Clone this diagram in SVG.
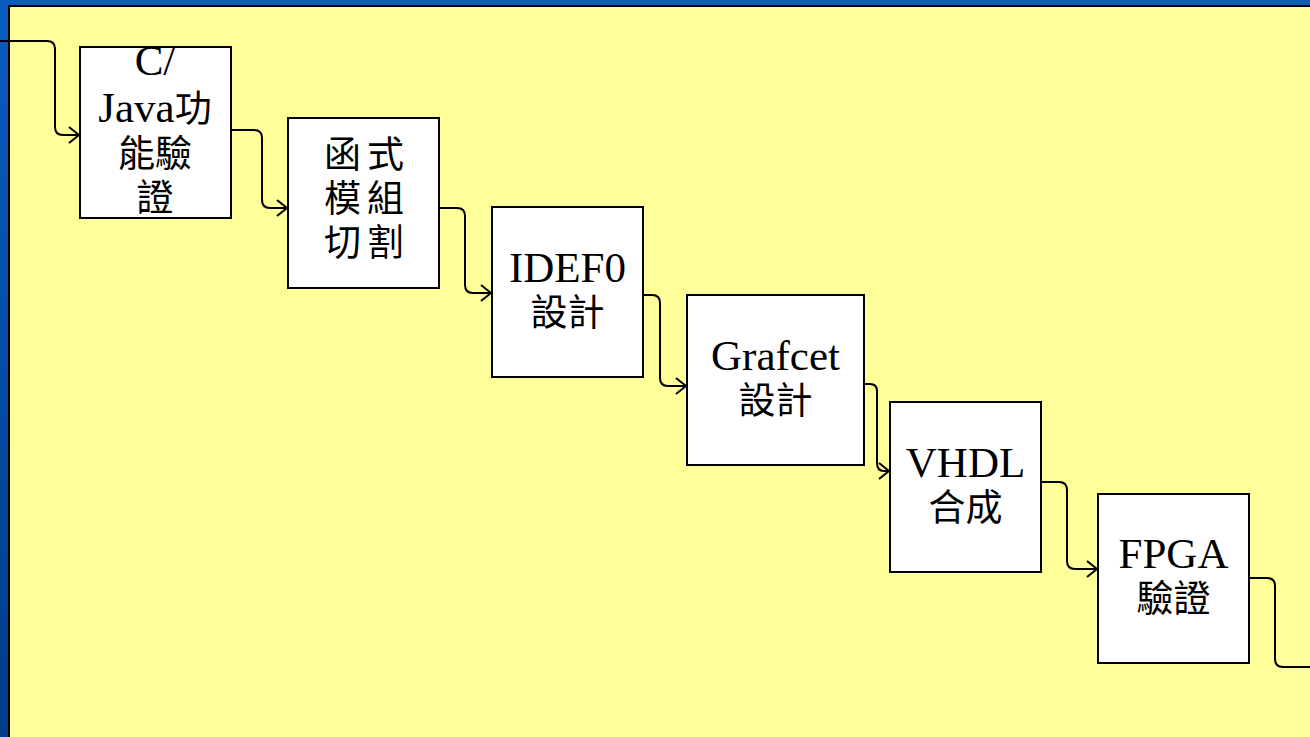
<svg xmlns="http://www.w3.org/2000/svg" width="1310" height="737" viewBox="0 0 1310 737">
<style>
.box{fill:#ffffff;stroke:#000000;stroke-width:2}
.lbl{font-family:"Liberation Serif","Noto Sans CJK TC",serif;font-size:43px;fill:#000000;text-anchor:middle}
.cj{font-family:"Liberation Serif","Noto Sans CJK TC",serif;font-size:37px;fill:#000000;text-anchor:middle}
.conn{fill:none;stroke:#000000;stroke-width:2}
</style>
<defs>
<linearGradient id="bg" x1="0" y1="0" x2="0" y2="1">
<stop offset="0" stop-color="#0A5CC0"/>
<stop offset="1" stop-color="#003C88"/>
</linearGradient>
<marker id="arr" markerUnits="userSpaceOnUse" markerWidth="14" markerHeight="20" viewBox="-12 -10 14 20" refX="0" refY="0" orient="auto">
<path d="M-10,-8 L0,0 L-10,8" fill="none" stroke="#000000" stroke-width="2"/>
</marker>
</defs>
<rect x="0" y="0" width="1310" height="737" fill="url(#bg)"/>
<rect x="8" y="5" width="1302" height="732" fill="#000000"/>
<rect x="10" y="7" width="1300" height="730" fill="#FFFF99"/>
<g id="connectors">
<path class="conn" marker-end="url(#arr)" d="M0,41 H47 Q55,41 55,49 V127 Q55,135 63,135 H79"/>
<path class="conn" marker-end="url(#arr)" d="M231,130 H254 Q262,130 262,138 V200 Q262,208 270,208 H287"/>
<path class="conn" marker-end="url(#arr)" d="M439,208 H457 Q465,208 465,216 V285 Q465,293 473,293 H491"/>
<path class="conn" marker-end="url(#arr)" d="M643,295 H652 Q660,295 660,303 V378 Q660,386 668,386 H686"/>
<path class="conn" marker-end="url(#arr)" d="M864,384 H870 Q877,384 877,391 V463 Q877,471 884,471 H889"/>
<path class="conn" marker-end="url(#arr)" d="M1041,482 H1059 Q1067,482 1067,490 V561 Q1067,569 1075,569 H1097"/>
<path class="conn" d="M1249,578 H1267 Q1275,578 1275,586 V659 Q1275,667 1283,667 H1310"/>
</g>
<g id="n1">
<rect class="box" x="80" y="47" width="151" height="171"/>
<text class="lbl" x="155" y="75">C/</text>
<text class="lbl" x="155" y="122">Java<tspan class="cj">功</tspan></text>
<text class="cj" x="155" y="167">能驗</text>
<text class="cj" x="155" y="211">證</text>
</g>
<g id="n2">
<rect class="box" x="288" y="118" width="151" height="170"/>
<text class="cj" x="367" y="168" letter-spacing="6">函式</text>
<text class="cj" x="367" y="212" letter-spacing="6">模組</text>
<text class="cj" x="367" y="256" letter-spacing="6">切割</text>
</g>
<g id="n3">
<rect class="box" x="492" y="207" width="151" height="170"/>
<text class="lbl" x="567.5" y="282">IDEF0</text>
<text class="cj" x="567.5" y="326">設計</text>
</g>
<g id="n4">
<rect class="box" x="687" y="295" width="177" height="170"/>
<text class="lbl" x="775.5" y="370">Grafcet</text>
<text class="cj" x="775.5" y="414">設計</text>
</g>
<g id="n5">
<rect class="box" x="890" y="402" width="151" height="170"/>
<text class="lbl" x="965.5" y="477">VHDL</text>
<text class="cj" x="965.5" y="521">合成</text>
</g>
<g id="n6">
<rect class="box" x="1098" y="494" width="151" height="169"/>
<text class="lbl" x="1173.5" y="568">FPGA</text>
<text class="cj" x="1173.5" y="612">驗證</text>
</g>
</svg>
